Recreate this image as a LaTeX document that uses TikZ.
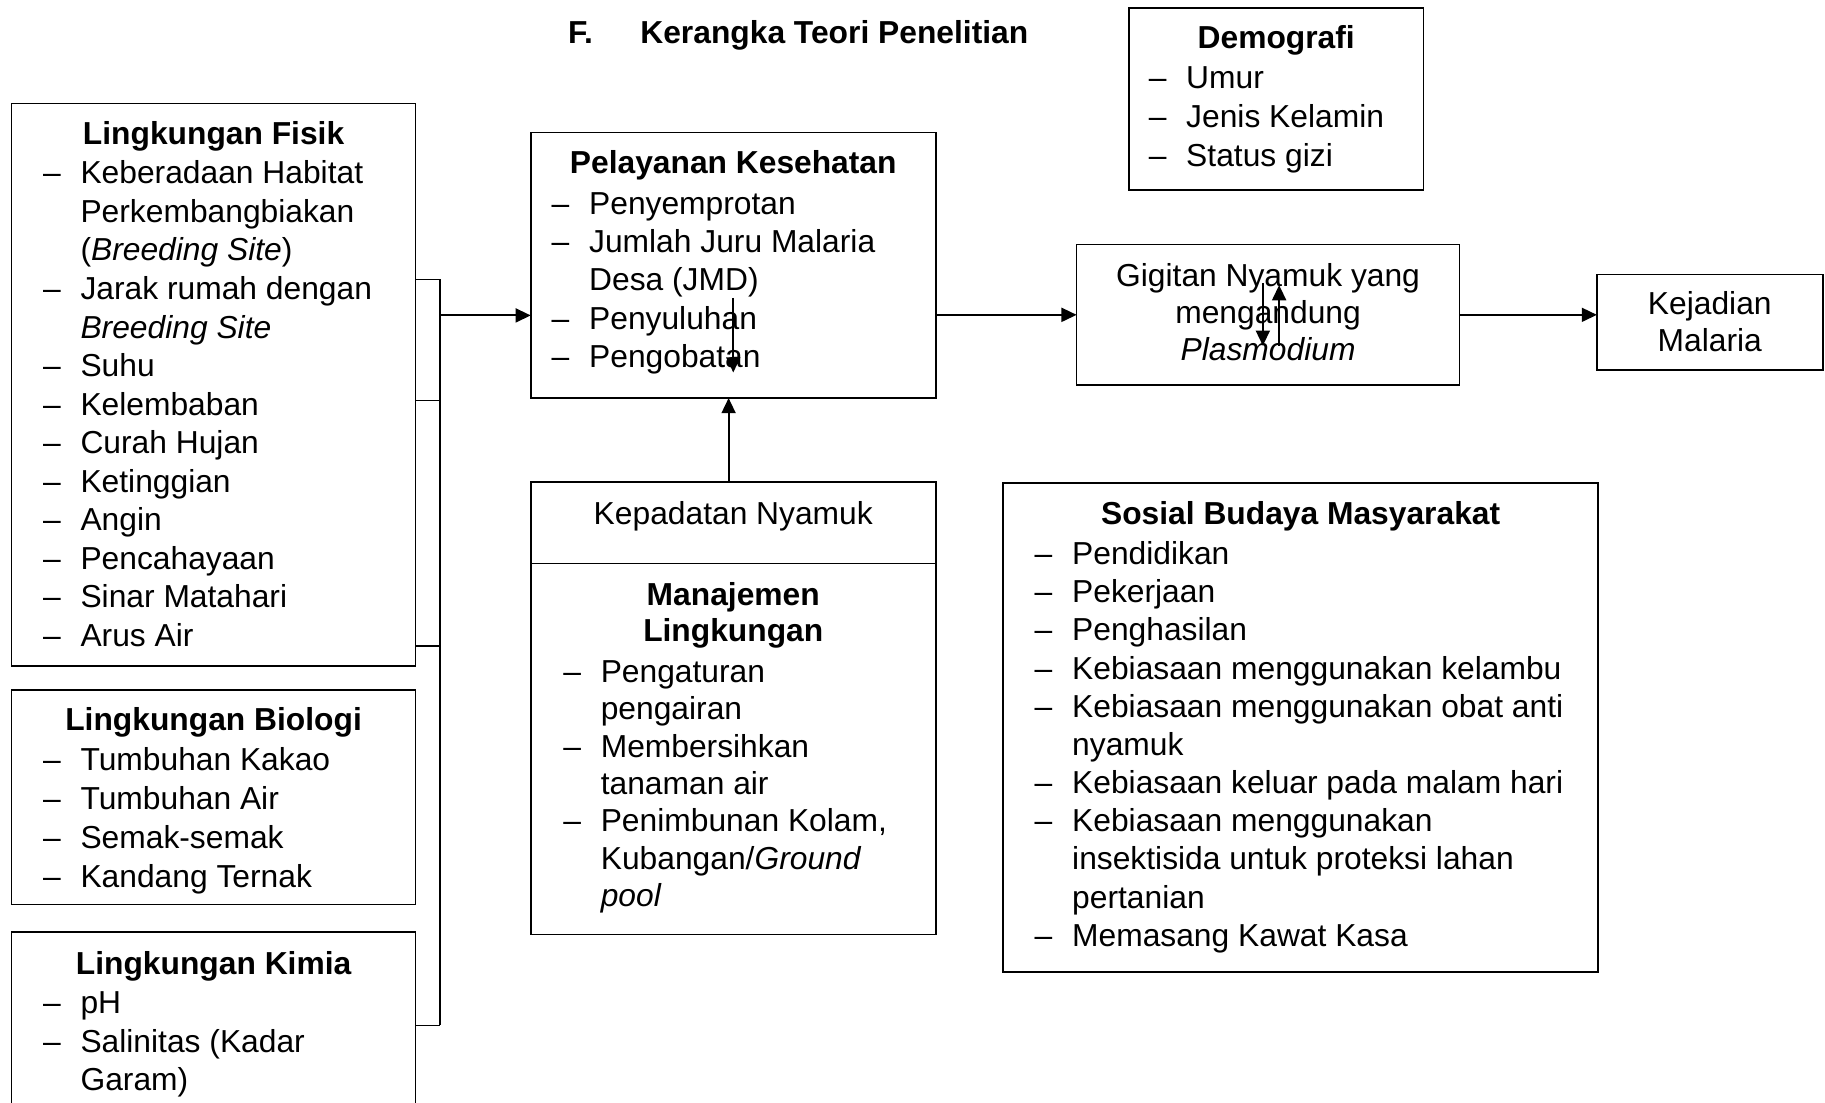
\documentclass[tikz,border=0pt]{standalone}
\usepackage{fontspec}
\setmainfont{Liberation Sans}
\usetikzlibrary{arrows.meta,fit}
\newcommand\fsz{\fontsize{27.3}{33}\selectfont}
\newcommand\D{\llap{–\hskip17pt}}
\begin{document}
\begin{tikzpicture}[x=1pt,y=-1pt,
  box/.style={draw, line width=1.4pt, inner sep=0pt, outer sep=0pt},
  ln/.style={anchor=base west, inner sep=0pt, font=\fsz},
  ctr/.style={anchor=base, inner sep=0pt, font=\fsz},
  hd/.style={anchor=base, inner sep=0pt, font=\fsz\bfseries},
  ttl/.style={anchor=base west, inner sep=0pt, font=\fsz\bfseries},
  wire/.style={line width=1.4pt},
  arr/.style={line width=1.7pt, -{Triangle[length=13pt,width=12pt]}}]
\fill[white] (0,0) rectangle (1568,947);
\useasboundingbox (0,0) rectangle (1568,947);

% title
\node[ttl] (tF) at (488,37) {F.};
\node[ttl] (tK) at (550,37) {Kerangka Teori Penelitian};

% boxes
\node[box, fit={(10,89)(357,572)}] (fisik) {};
\node[box, fit={(10,593)(357,777)}] (bio) {};
\node[box, fit={(10,801)(357,965)}] (kimia) {};
\node[box, fit={(456,114)(804,342)}] (pel) {};
\node[box, fit={(970,7)(1223,163)}] (demo) {};
\node[box, fit={(925,210)(1254,331)}] (gig) {};
\node[box, fit={(1372,236)(1566,318)}] (kej) {};
\node[box, fit={(456,414)(804,484)}] (kep) {};
\node[box, fit={(456,484)(804,803)}] (man) {};
\node[box, fit={(862,415)(1373,835)}] (sos) {};

% Lingkungan Fisik
\node[hd] (fisT) at (183.5,124) {Lingkungan Fisik};
\foreach \t [count=\i from 0] in {{\D Keberadaan Habitat},{Perkembangbiakan},{(\textit{Breeding Site})},{\D Jarak rumah dengan},{\textit{Breeding Site}},{\D Suhu},{\D Kelembaban},{\D Curah Hujan},{\D Ketinggian},{\D Angin},{\D Pencahayaan},{\D Sinar Matahari},{\D Arus Air}}
  \node[ln] (fis\i) at (69,{158+33.1*\i}) {\t};

% Lingkungan Biologi
\node[hd] (bioT) at (183.5,628) {Lingkungan Biologi};
\foreach \t [count=\i from 0] in {{\D Tumbuhan Kakao},{\D Tumbuhan Air},{\D Semak-semak},{\D Kandang Ternak}}
  \node[ln] (bio\i) at (69,{662+33.4*\i}) {\t};

% Lingkungan Kimia
\node[hd] (kimT) at (183.5,837) {Lingkungan Kimia};
\foreach \t [count=\i from 0] in {{\D pH},{\D Salinitas (Kadar},{Garam)}}
  \node[ln] (kim\i) at (69,{871+33*\i}) {\t};

% Pelayanan Kesehatan
\node[hd] (pelT) at (630,149) {Pelayanan Kesehatan};
\foreach \t [count=\i from 0] in {{\D Penyemprotan},{\D Jumlah Juru Malaria},{Desa (JMD)},{\D Penyuluhan},{\D Pengobatan}}
  \node[ln] (pel\i) at (506,{184+32.9*\i}) {\t};

% Demografi
\node[hd] (demT) at (1096.5,42) {Demografi};
\foreach \t [count=\i from 0] in {{\D Umur},{\D Jenis Kelamin},{\D Status gizi}}
  \node[ln] (dem\i) at (1019,{76+33.5*\i}) {\t};

% Gigitan
\node[ctr] (gig0) at (1089.5,246) {Gigitan Nyamuk yang};
\node[ctr] (gig1) at (1089.5,278) {mengandung};
\node[ctr] (gig2) at (1089.5,310) {\textit{Plasmodium}};

% Kejadian
\node[ctr] (kej0) at (1469,270) {Kejadian};
\node[ctr] (kej1) at (1469,302) {Malaria};

% Kepadatan / Manajemen
\node[ctr] (kepT) at (630,451) {Kepadatan Nyamuk};
\node[hd] (manT0) at (630,520) {Manajemen};
\node[hd] (manT1) at (630,551) {Lingkungan};
\foreach \t [count=\i from 0] in {{\D Pengaturan},{pengairan},{\D Membersihkan},{tanaman air},{\D Penimbunan Kolam,},{Kubangan/\textit{Ground}},{\textit{pool}}}
  \node[ln] (man\i) at (516,{586+32.2*\i}) {\t};

% Sosial Budaya
\node[hd] (sosT) at (1117.5,451) {Sosial Budaya Masyarakat};
\foreach \t [count=\i from 0] in {{\D Pendidikan},{\D Pekerjaan},{\D Penghasilan},{\D Kebiasaan menggunakan kelambu},{\D Kebiasaan menggunakan obat anti},{nyamuk},{\D Kebiasaan keluar pada malam hari},{\D Kebiasaan menggunakan},{insektisida untuk proteksi lahan},{pertanian},{\D Memasang Kawat Kasa}}
  \node[ln] (sos\i) at (921,{485+32.8*\i}) {\t};

% bracket
\coordinate (b1) at (378,240);
\coordinate (b2) at (378,344);
\coordinate (b3) at (378,555);
\coordinate (b4) at (378,881);
\coordinate (bm) at (378,271);
\draw[wire] (b1) -- (b4);
\draw[wire] (fisik.east |- b1) -- (b1);
\draw[wire] (fisik.east |- b2) -- (b2);
\draw[wire] (fisik.east |- b3) -- (b3);
\draw[wire] (kimia.east |- b4) -- (b4);
\draw[arr] (bm) -- (pel.west |- bm);

% main flow
\draw[arr] (pel.east |- gig.west) -- (gig.west);
\draw[arr] (gig.east) -- (gig.east -| kej.west);
\draw[arr] ([xshift=-4pt]kep.north) -- ([xshift=-4pt]kep.north |- pel.south);

% small arrows
\coordinate (pa1) at (630,256);
\coordinate (pa2) at (630,320);
\draw[arr] (pa1) -- (pa2);
\coordinate (ga1) at (1085,243);
\coordinate (ga2) at (1085,297);
\draw[arr] (ga1) -- (ga2);
\coordinate (gb1) at (1099,297);
\coordinate (gb2) at (1099,245);
\draw[arr] (gb1) -- (gb2);
\end{tikzpicture}
\end{document}
